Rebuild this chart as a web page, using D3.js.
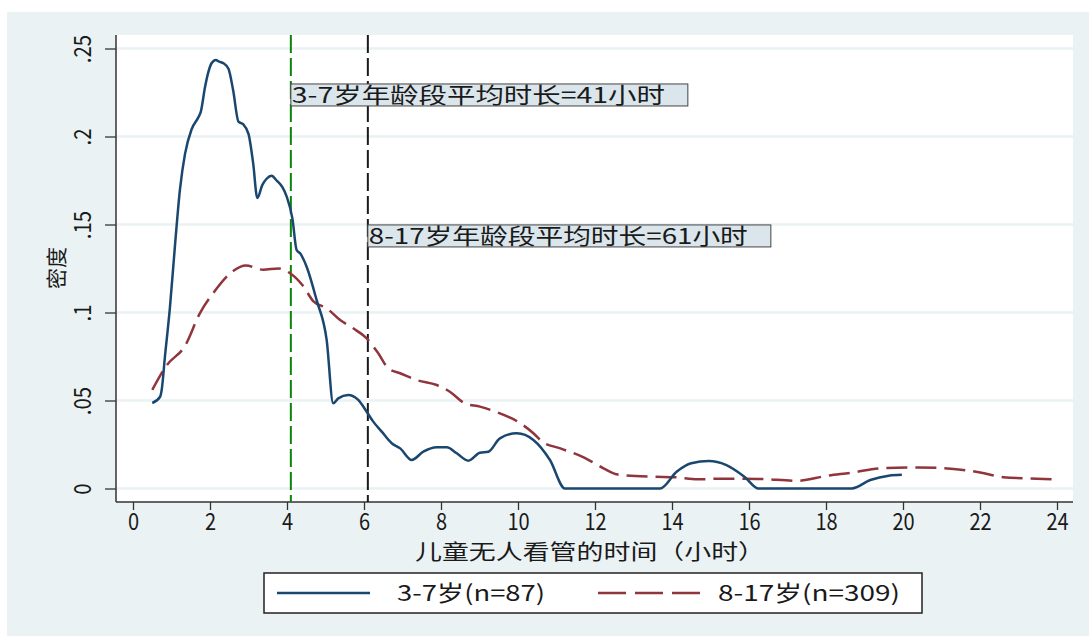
<!DOCTYPE html>
<html>
<head>
<meta charset="utf-8">
<script src="https://cdnjs.cloudflare.com/ajax/libs/d3/7.8.5/d3.min.js"></script>
<style>
  body { margin: 0; background: #fff; }
  text { font-family: "Noto Sans CJK SC", "Noto Sans", sans-serif; fill: #1a1a1a; }
</style>
</head>
<body>
<script>
// 3-7岁 kernel density (hours, density)
const hours37 = [0.5, 0.7, 0.745, 0.83, 0.96, 1.09, 1.22, 1.35, 1.52, 1.7, 1.76, 1.87, 1.95, 2.04, 2.15, 2.24, 2.35, 2.48, 2.6, 2.74, 2.86, 3.0, 3.12, 3.23, 3.36, 3.47, 3.6, 3.73, 3.88, 3.99, 4.14, 4.25, 4.34, 4.51, 4.77, 5.03, 5.2, 5.33, 5.59, 5.85, 6.07, 6.24, 6.46, 6.72, 6.94, 7.24, 7.54, 7.89, 8.15, 8.41, 8.71, 9.01, 9.23, 9.53, 9.97, 10.4, 10.83, 11.22, 13.69, 14.12, 14.5, 14.96, 15.4, 15.88, 16.25, 18.67, 19.15, 19.63, 19.97];
const dens37 = [0.0486, 0.052, 0.056, 0.075, 0.103, 0.138, 0.17, 0.19, 0.204, 0.211, 0.214, 0.228, 0.236, 0.2416, 0.2435, 0.2425, 0.2416, 0.2385, 0.2264, 0.2084, 0.207, 0.2015, 0.185, 0.165, 0.1725, 0.176, 0.1777, 0.175, 0.1712, 0.166, 0.1535, 0.1355, 0.1336, 0.126, 0.107, 0.0844, 0.0484, 0.0512, 0.0531, 0.0503, 0.0436, 0.038, 0.0323, 0.0257, 0.0228, 0.0162, 0.0209, 0.0234, 0.0234, 0.02, 0.0158, 0.0203, 0.0209, 0.0285, 0.0314, 0.0276, 0.0162, 0, 0, 0.0095, 0.0143, 0.0156, 0.0134, 0.0067, 0, 0, 0.0048, 0.0073, 0.0078];

// 8-17岁 kernel density (hours, density)
const hours817 = [0.5, 0.875, 1.35, 1.74, 2.11, 2.6, 2.93, 3.38, 3.78, 4.08, 4.42, 4.68, 5.03, 5.38, 5.72, 6.07, 6.37, 6.63, 6.94, 7.37, 7.89, 8.23, 8.62, 9.01, 9.53, 9.99, 10.4, 10.63, 11.1, 11.72, 12.22, 12.6, 13.55, 14.08, 14.67, 15.3, 16.26, 17.27, 18.0, 18.67, 19.44, 20.4, 21.56, 22.04, 22.6, 23.47, 24.0];
const dens817 = [0.056, 0.07, 0.081, 0.0997, 0.1118, 0.1236, 0.1267, 0.1243, 0.125, 0.1223, 0.115, 0.1065, 0.1024, 0.0957, 0.091, 0.0853, 0.0768, 0.0683, 0.0655, 0.0616, 0.0588, 0.055, 0.0484, 0.0465, 0.0427, 0.038, 0.0314, 0.0266, 0.0228, 0.0176, 0.0115, 0.0079, 0.0067, 0.0064, 0.0052, 0.0056, 0.0054, 0.0044, 0.0071, 0.009, 0.0115, 0.012, 0.0105, 0.009, 0.0064, 0.0056, 0.0052];

// mean lines and their notes
const meanHours = [4.1, 6.1];
const meanLabels = ["3-7岁年龄段平均时长=41小时", "8-17岁年龄段平均时长=61小时"];
const meanLabelY = [0.2236, 0.1435];

// axes
const xTickValues = [0, 2, 4, 6, 8, 10, 12, 14, 16, 18, 20, 22, 24];
const yTickValues = [0, 0.05, 0.1, 0.15, 0.2, 0.25];
const yTickLabels = ["0", ".05", ".1", ".15", ".2", ".25"];
const xTitle = "儿童无人看管的时间（小时）";
const yTitle = "密度";
const legendLabels = ["3-7岁(n=87)", "8-17岁(n=309)"];

/**
 * Density plot, two groups plus mean markers.
 */
class DensityChart {
  constructor() {
    this.W = 1089;
    this.H = 637;
    // white plot region
    this.plot = {left: 116, right: 1073, top: 35, bottom: 502};

    this.svg = d3.select("body").append("svg")
      .attr("width", this.W)
      .attr("height", this.H);

    this.x = d3.scaleLinear().domain([0, 24]).range([133, 1057]);
    this.y = d3.scaleLinear().domain([0, 0.25]).range([488.5, 48.5]);

    this.drawFrame();
    this.drawAxes();
    this.drawMeans();
    this.drawCurves();
    this.drawLegend();
  }

  drawFrame() {
    this.svg.append("rect")
      .attr("x", 7).attr("y", 12)
      .attr("width", this.W - 7).attr("height", this.H - 12 - 1)
      .attr("fill", "#eaf2f3");

    this.svg.append("rect")
      .attr("x", this.plot.left).attr("y", this.plot.top)
      .attr("width", this.plot.right - this.plot.left)
      .attr("height", this.plot.bottom - this.plot.top)
      .attr("fill", "#fff");

    // grid
    this.svg.append("g").selectAll("line")
      .data(yTickValues)
      .join("line")
      .attr("x1", this.plot.left).attr("x2", this.plot.right)
      .attr("y1", d => this.y(d)).attr("y2", d => this.y(d))
      .attr("stroke", "#eaf2f3")
      .attr("stroke-width", 2.5);
  }

  drawAxes() {
    let yAxis = d3.axisLeft(this.y)
      .tickValues(yTickValues)
      .tickFormat((d, i) => yTickLabels[i])
      .tickSize(11)
      .tickPadding(6);

    let gy = this.svg.append("g")
      .attr("transform", "translate(" + this.plot.left + ",0)")
      .call(yAxis);
    gy.select(".domain")
      .attr("d", "M0," + this.plot.top + "V" + this.plot.bottom);
    gy.selectAll("line").attr("stroke", "#333").attr("stroke-width", 1.3);
    gy.select(".domain").attr("stroke", "#333").attr("stroke-width", 1.5);
    // tick groups are already moved to y(d), so just shift left and turn
    gy.selectAll("text")
      .attr("font-size", 24)
      .attr("text-anchor", "middle")
      .attr("transform", "translate(-25,0) rotate(-90) scale(0.85,1)")
      .attr("x", 0).attr("y", 0).attr("dy", "0");

    let xAxis = d3.axisBottom(this.x)
      .tickValues(xTickValues)
      .tickSize(8)
      .tickPadding(4);

    let gx = this.svg.append("g")
      .attr("transform", "translate(0," + this.plot.bottom + ")")
      .call(xAxis);
    gx.select(".domain")
      .attr("d", "M" + this.plot.left + ",0H" + this.plot.right);
    gx.selectAll("line").attr("stroke", "#333").attr("stroke-width", 1.3);
    gx.select(".domain").attr("stroke", "#333").attr("stroke-width", 1.5);
    gx.selectAll("text")
      .attr("font-size", 23)
      .attr("transform", "scale(0.87,1)");

    // titles
    this.svg.append("text")
      .attr("x", 590).attr("y", 559)
      .attr("text-anchor", "middle")
      .attr("font-size", 21)
      .attr("textLength", 350)
      .attr("lengthAdjust", "spacingAndGlyphs")
      .text(xTitle);

    this.svg.append("text")
      .attr("transform", "translate(64,268) rotate(-90)")
      .attr("text-anchor", "middle")
      .attr("font-size", 21)
      .text(yTitle);
  }

  drawMeans() {
    let colors = ["#0a850a", "#1a1a1a"];
    let widths = [397, 403];

    meanHours.forEach((h, i) => {
      this.svg.append("line")
        .attr("x1", this.x(h)).attr("x2", this.x(h))
        .attr("y1", this.plot.top).attr("y2", this.plot.bottom)
        .attr("stroke", colors[i])
        .attr("stroke-width", 2)
        .attr("stroke-dasharray", "18,5");
    });

    meanHours.forEach((h, i) => {
      let cy = this.y(meanLabelY[i]);
      this.svg.append("rect")
        .attr("x", this.x(h)).attr("y", cy - 11)
        .attr("width", widths[i]).attr("height", 22)
        .attr("fill", "#dbe6ec")
        .attr("stroke", "#444")
        .attr("stroke-width", 1);
      this.svg.append("text")
        .attr("x", this.x(h) + 1).attr("y", cy + 8)
        .attr("font-size", 22)
        .attr("textLength", widths[i] - 24)
        .attr("lengthAdjust", "spacingAndGlyphs")
        .text(meanLabels[i]);
    });
  }

  drawCurves() {
    let line = d3.line()
      .x(d => this.x(d[0]))
      .y(d => this.y(d[1]))
      .curve(d3.curveMonotoneX);

    this.svg.append("path")
      .datum(d3.zip(hours817, dens817))
      .attr("d", line)
      .attr("fill", "none")
      .attr("stroke", "#90353b")
      .attr("stroke-width", 2.5)
      .attr("stroke-dasharray", "21,8");

    this.svg.append("path")
      .datum(d3.zip(hours37, dens37))
      .attr("d", line)
      .attr("fill", "none")
      .attr("stroke", "#1a476f")
      .attr("stroke-width", 2.5);
  }

  drawLegend() {
    let g = this.svg.append("g");
    g.append("rect")
      .attr("x", 264).attr("y", 573)
      .attr("width", 658).attr("height", 40)
      .attr("fill", "#fff")
      .attr("stroke", "#222")
      .attr("stroke-width", 1.5);

    let items = [
      {x0: 277, x1: 370, tx: 397, tw: 148, color: "#1a476f", dash: null},
      {x0: 598, x1: 700, tx: 718, tw: 182, color: "#90353b", dash: "28,9"}
    ];
    items.forEach((it, i) => {
      g.append("line")
        .attr("x1", it.x0).attr("x2", it.x1)
        .attr("y1", 593).attr("y2", 593)
        .attr("stroke", it.color)
        .attr("stroke-width", 2.5)
        .attr("stroke-dasharray", it.dash);
      g.append("text")
        .attr("x", it.tx).attr("y", 601)
        .attr("font-size", 22)
        .attr("textLength", it.tw)
        .attr("lengthAdjust", "spacingAndGlyphs")
        .text(legendLabels[i]);
    });
  }
}

let chart = new DensityChart();
</script>
</body>
</html>
